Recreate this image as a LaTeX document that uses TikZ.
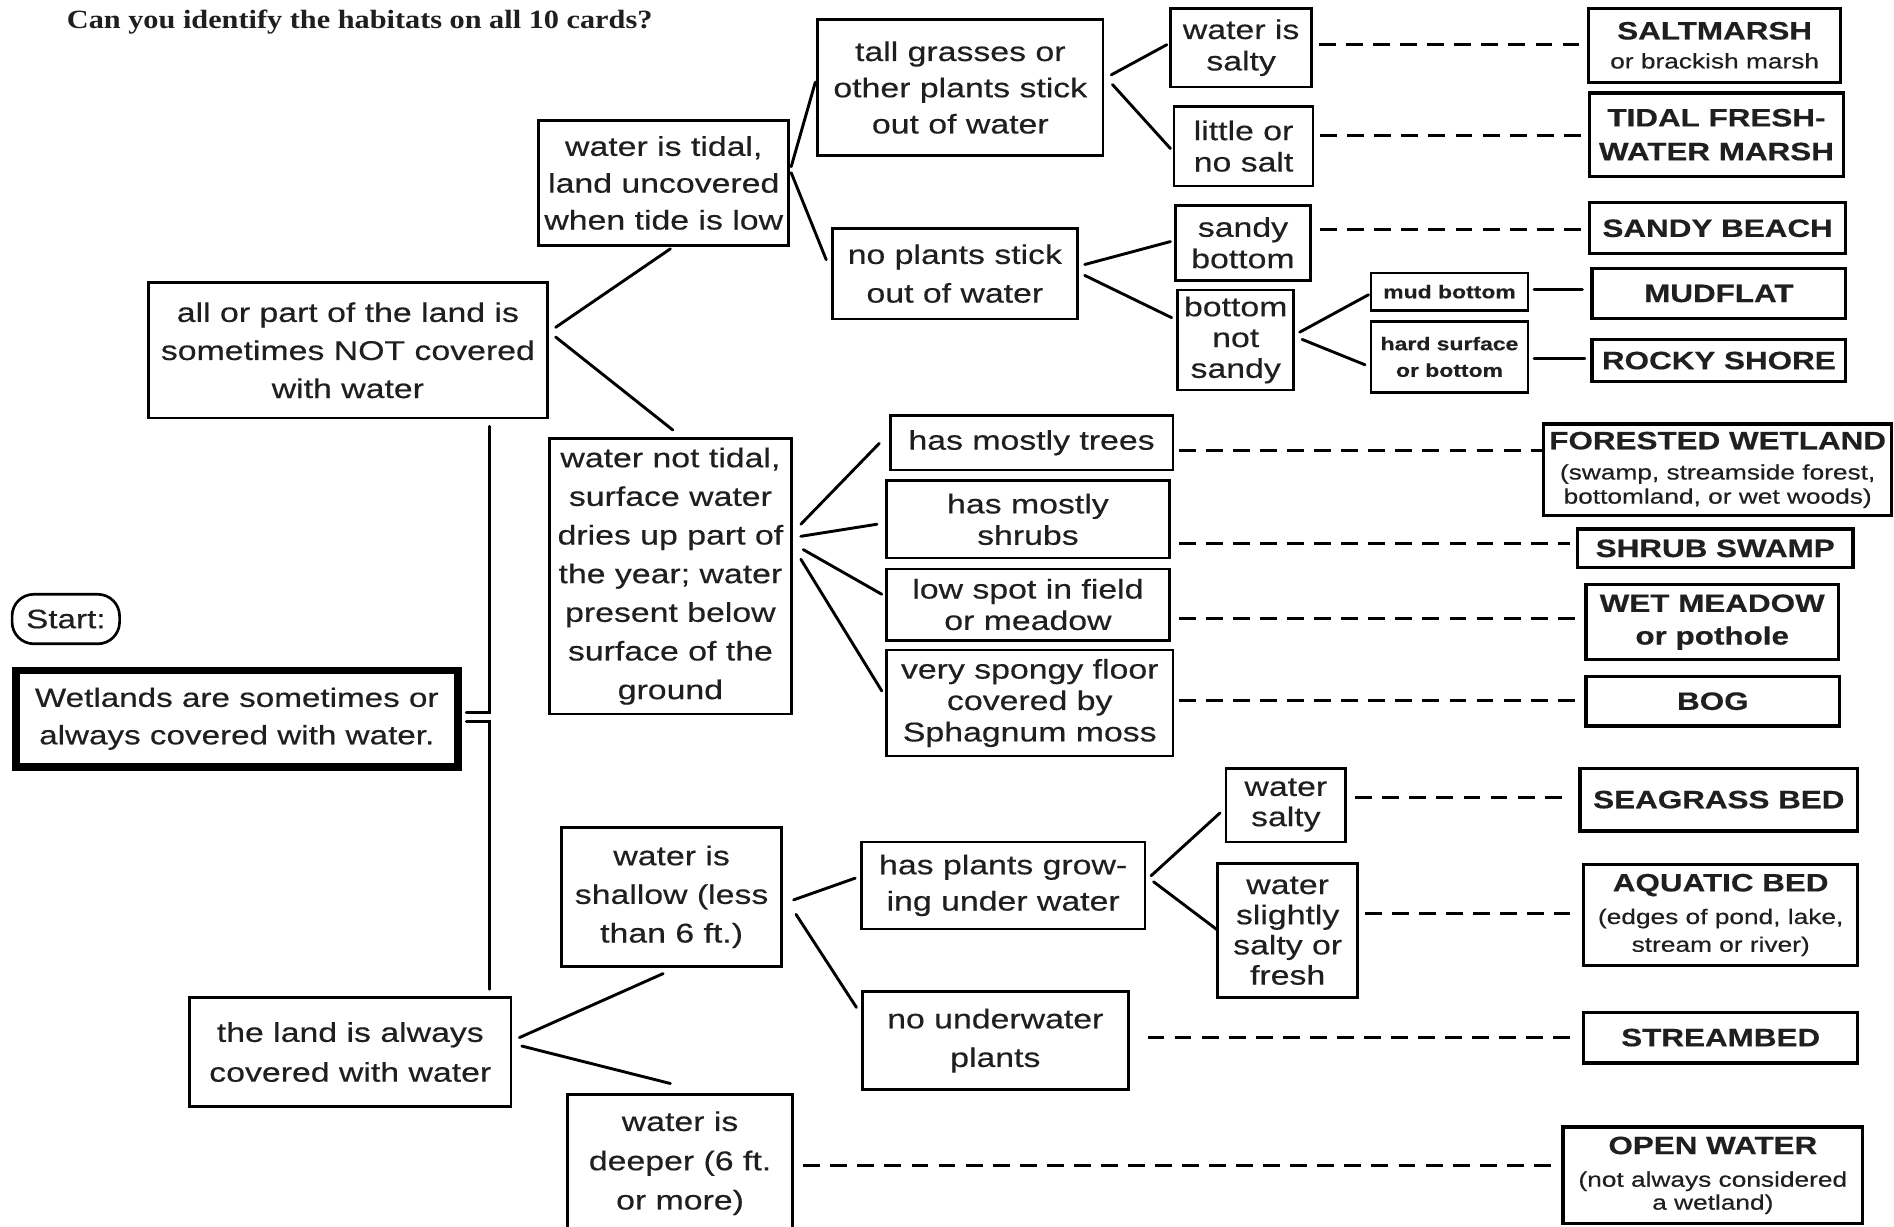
\documentclass[tikz,border=0pt]{standalone}
\usepackage{fontspec}
\setmainfont{Liberation Sans}[FakeStretch=1.25,FakeBold=0.4]
\newfontfamily\titlef{Liberation Serif}[FakeStretch=1.15]
\newcommand\myfs[2]{\fontsize{#1}{#2}\selectfont}
\newcommand\hbx[7]{\node[#6,minimum width={(#4-#2)*0.5pt},minimum height={(#5-#3)*0.5pt}] (#1) at ({(#2+#4)/2},{(#3+#5)/2}) {#7};}
\tikzset{
  box/.style={draw=black, line width=1.1pt, fill=white, align=center, inner sep=0pt, outer sep=0pt, text=black!88},
  res/.style={box, line width=1.3pt},
  fa/.style={font=\myfs{11.2}{#1}},
  fd/.style={font=\myfs{10.4}{#1}\bfseries},
  fe/.style={font=\myfs{8.7}{#1}},
  fc/.style={font=\myfs{7.6}{11}\bfseries},
  ln/.style={line width=1.2pt, line cap=round},
  dl/.style={line width=1.2pt, dash pattern=on 7pt off 4.2pt}
}
\begin{document}
\begin{tikzpicture}[x=0.5pt,y=-0.5pt]
\useasboundingbox (0,0) rectangle (1568,1015);
\clip (0,0) rectangle (1568,1015);
\fill[white] (0,0) rectangle (1568,1015);

\node[anchor=base west, font=\titlef\bfseries\myfs{10.9}{13}, text=black!88, inner sep=0pt] (title) at (55,24) {Can you identify the habitats on all 10 cards?};

% boxes
\hbx{tidal}{446}{100}{653}{203}{box,fa=15.25}{water is tidal,\\land uncovered\\when tide is low}
\hbx{allpart}{123}{234}{453}{346}{box,fa=15.75}{all or part of the land is\\sometimes NOT covered\\with water}
\hbx{tall}{677}{16}{913}{129}{box,fa=15}{tall grasses or\\other plants stick\\out of water}
\hbx{noplants}{689}{189}{892}{264}{box,fa=16}{no plants stick\\out of water}
\hbx{salty1}{969}{7}{1086}{72}{box,fa=13}{water is\\salty}
\hbx{little}{972}{88}{1087}{154}{box,fa=13}{little or\\no salt}
\hbx{sandy}{973}{170}{1085}{232}{box,fa=13}{sandy\\bottom}
\hbx{notsandy}{975}{240}{1071}{323}{box,fa=12.75}{bottom\\not\\sandy}
\hbx{mud}{1135}{226}{1265}{257}{box,fc}{mud bottom}
\hbx{hard}{1135}{266}{1265}{325}{box,fc}{hard surface\\or bottom}
\hbx{saltm}{1315}{7}{1524}{68}{res,fe=11}{{\myfs{10.4}{12}\bfseries SALTMARSH}\\[1pt]or brackish marsh}
\hbx{tfm}{1316}{77}{1526}{146}{res,fd=14}{TIDAL FRESH-\\WATER MARSH}
\hbx{sbeach}{1316}{168}{1528}{210}{res,fd=14}{SANDY BEACH}
\hbx{mudflat}{1318}{222}{1528}{264}{res,fd=14}{MUDFLAT}
\hbx{rocky}{1318}{281}{1528}{316}{res,fd=14}{ROCKY SHORE}
\hbx{nottidal}{455}{363}{655}{591}{box,fa=16}{water not tidal,\\surface water\\dries up part of\\the year; water\\present below\\surface of the\\ground}
\hbx{trees}{737}{344}{971}{389}{box,fa=13}{has mostly trees}
\hbx{shrubs}{734}{398}{968}{462}{box,fa=13}{has mostly\\shrubs}
\hbx{lowspot}{734}{471}{968}{530}{box,fa=13}{low spot in field\\or meadow}
\hbx{spongy}{734}{538}{971}{626}{box,fa=13}{very spongy floor\\covered by\\Sphagnum moss}
\hbx{forest}{1278}{351}{1566}{427}{res,fe=10}{{\myfs{10.4}{12}\bfseries FORESTED WETLAND}\\[2.5pt](swamp, streamside forest,\\bottomland, or wet woods)}
\hbx{shrubsw}{1306}{438}{1534}{470}{res,fd=14}{SHRUB SWAMP}
\hbx{wetm}{1313}{484}{1522}{546}{res,fd=13.5}{WET MEADOW\\or pothole}
\hbx{bog}{1313}{560}{1523}{601}{res,fd=14}{BOG}
\hbx{start}{10}{492}{99}{533}{box,rounded corners=9pt,font=\myfs{11}{14}}{Start:}
\hbx{wet}{13}{555}{379}{635}{box,line width=3.2pt,font=\myfs{11}{15.5}}{Wetlands are sometimes or\\always covered with water.}
\hbx{shallow}{465}{685}{647}{800}{box,fa=16}{water is\\shallow (less\\than 6 ft.)}
\hbx{always}{157}{826}{423}{916}{box,fa=16.5}{the land is always\\covered with water}
\hbx{deeper}{470}{906}{656}{1020}{box,fa=16.25}{water is\\deeper (6 ft.\\or more)}
\hbx{plants}{713}{697}{948}{769}{box,fa=15}{has plants grow-\\ing under water}
\hbx{nounder}{714}{821}{934}{902}{box,fa=16}{no underwater\\plants}
\hbx{wsalty}{1015}{636}{1114}{697}{box,fa=12.5}{water\\salty}
\hbx{wslight}{1008}{715}{1124}{826}{box,fa=12.5}{water\\slightly\\salty or\\fresh}
\hbx{seagrass}{1308}{636}{1538}{688}{res,fd=14}{SEAGRASS BED}
\hbx{aquatic}{1311}{716}{1538}{799}{res,fe=11.5}{{\myfs{10.4}{12}\bfseries AQUATIC BED}\\[2pt](edges of pond, lake,\\stream or river)}
\hbx{streambed}{1311}{838}{1538}{880}{res,fd=14}{STREAMBED}
\hbx{openw}{1294}{933}{1542}{1013}{res,fe=9.5}{{\myfs{10.4}{12}\bfseries OPEN WATER}\\[4pt](not always considered\\a wetland)}

% solid connectors
\draw[ln] ([shift={(7,-19)}]allpart.east) -- ([shift={(5.5,3)}]tidal.south);
\draw[ln] ([shift={(7,-11)}]allpart.east) -- ([shift={(2,-7)}]nottidal.north);
\draw[ln] ([shift={(2,-13.5)}]tidal.east) -- ([shift={(-2,-4.5)}]tall.west);
\draw[ln] ([shift={(2,-8.5)}]tidal.east) -- ([shift={(-5,-11.5)}]noplants.west);
\draw[ln] ([shift={(7,-10.5)}]tall.east) -- ([shift={(-3,-2.5)}]salty1.west);
\draw[ln] ([shift={(8,-2.5)}]tall.east) -- ([shift={(-3,2)}]little.west);
\draw[ln] ([shift={(6,-7.5)}]noplants.east) -- ([shift={(-4,-1)}]sandy.west);
\draw[ln] ([shift={(6,1.5)}]noplants.east) -- ([shift={(-5,-18.5)}]notsandy.west);
\draw[ln] ([shift={(5,-6.5)}]notsandy.east) -- ([shift={(-2,2.5)}]mud.west);
\draw[ln] ([shift={(7,-0.5)}]notsandy.east) -- ([shift={(-5,6.5)}]hard.west);
\draw[ln] ([shift={(5,-1.5)}]mud.east) -- ([shift={(-8,-3)}]mudflat.west);
\draw[ln] ([shift={(5,1.5)}]hard.east) -- ([shift={(-6,-1.5)}]rocky.west);
\draw[ln] ([shift={(8,-43)}]nottidal.east) -- ([shift={(-9,0.5)}]trees.west);
\draw[ln] ([shift={(8,-33)}]nottidal.east) -- ([shift={(-8,4)}]shrubs.west);
\draw[ln] ([shift={(10,-22)}]nottidal.east) -- ([shift={(-4,-8.5)}]lowspot.west);
\draw[ln] ([shift={(8,-14)}]nottidal.east) -- ([shift={(-4,-10)}]spongy.west);
\draw[ln] ([shift={(7,-5)}]wet.east) -| ([shift={(117,7)}]allpart.south);
\draw[ln] ([shift={(7,2)}]wet.east) -| ([shift={(115,-7)}]always.north);
\draw[ln] ([shift={(7,-12)}]always.east) -- ([shift={(-7,6)}]shallow.south);
\draw[ln] ([shift={(9,-5)}]always.east) -- ([shift={(-8,-9)}]deeper.north);
\draw[ln] ([shift={(10,2.5)}]shallow.east) -- ([shift={(-5,-6)}]plants.west);
\draw[ln] ([shift={(12,14.5)}]shallow.east) -- ([shift={(-5,-27.5)}]nounder.west);
\draw[ln] ([shift={(5,-8)}]plants.east) -- ([shift={(-5,6.5)}]wsalty.west);
\draw[ln] ([shift={(7,-3)}]plants.east) -- ([shift={(0,-0.5)}]wslight.west);

% dashed connectors
\draw[dl] ([shift={(6,-2.5)}]salty1.east) -- ([shift={(-5,-0.5)}]saltm.west);
\draw[dl] ([shift={(6,-9)}]little.east) -- ([shift={(-6,0.5)}]tfm.west);
\draw[dl] ([shift={(8,-11)}]sandy.east) -- ([shift={(-6,1)}]sbeach.west);
\draw[dl] ([shift={(5,6.5)}]trees.east) -- ([shift={(0,-16)}]forest.west);
\draw[dl] ([shift={(8,20)}]shrubs.east) -- ([shift={(-6,-4)}]shrubsw.west);
\draw[dl] ([shift={(8,11.5)}]lowspot.east) -- ([shift={(-7,-3)}]wetm.west);
\draw[dl] ([shift={(5,-2)}]spongy.east) -- ([shift={(-7,-0.5)}]bog.west);
\draw[dl] ([shift={(8,-6.5)}]wsalty.east) -- ([shift={(-8,-2)}]seagrass.west);
\draw[dl] ([shift={(6,-14.5)}]wslight.east) -- ([shift={(-11,-1.5)}]aquatic.west);
\draw[dl] ([shift={(16,-2.5)}]nounder.east) -- ([shift={(-11,0)}]streambed.west);
\draw[dl] ([shift={(9,2)}]deeper.east) -- ([shift={(-9,-8)}]openw.west);
\end{tikzpicture}
\end{document}
